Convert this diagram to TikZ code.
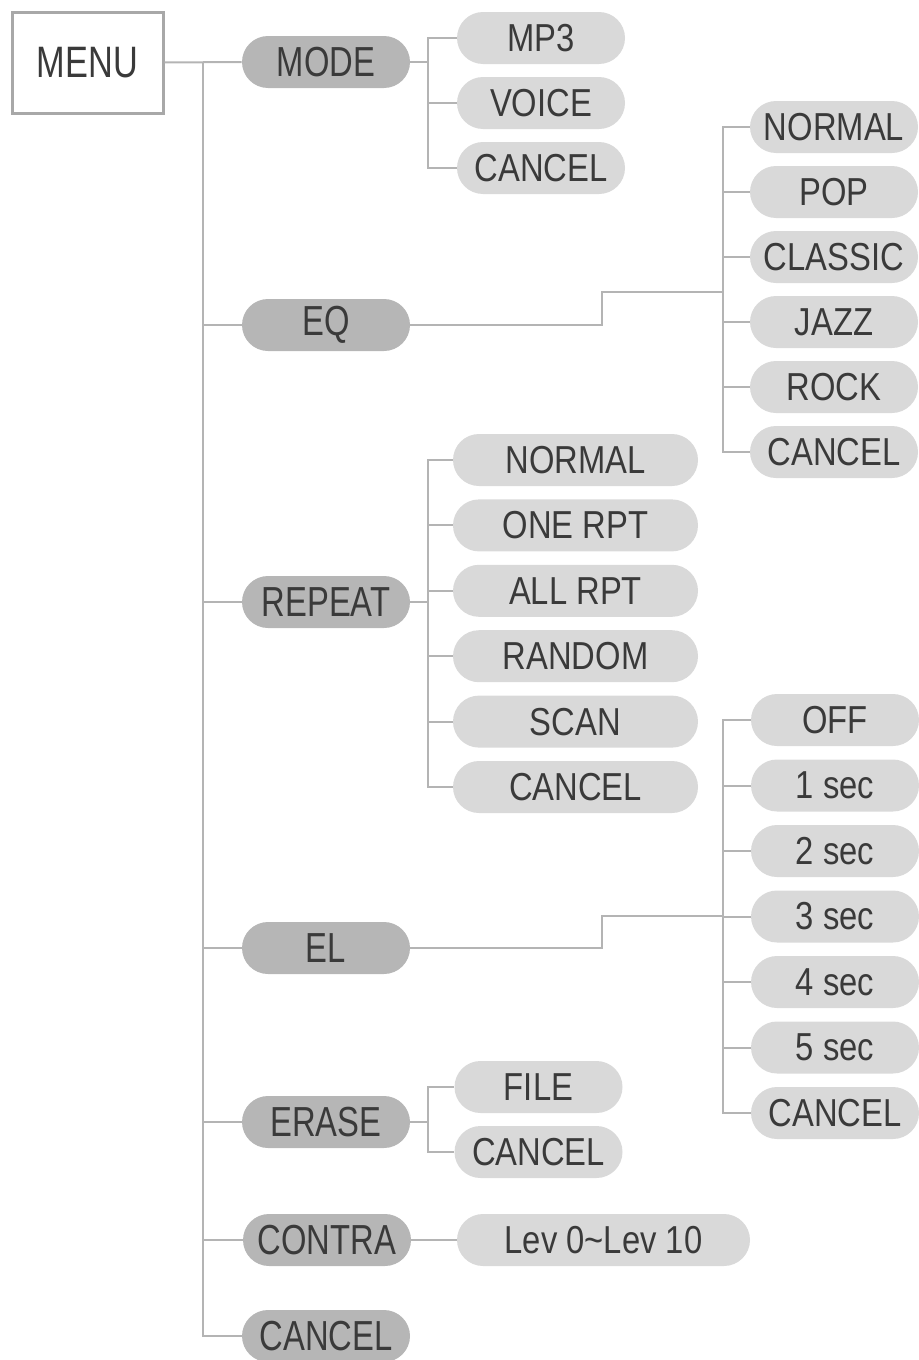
\documentclass[tikz,border=0pt]{standalone}
\usepackage{fontspec}
\setmainfont{Liberation Sans}[FakeStretch=0.84]
\newfontfamily\topfont{Liberation Sans}[FakeStretch=0.78]
\usetikzlibrary{shapes.misc}
\definecolor{linegray}{HTML}{B4B4B4}
\definecolor{boxgray}{HTML}{A8A8A8}
\definecolor{maingray}{HTML}{B6B6B6}
\definecolor{subgray}{HTML}{D9D9D9}
\definecolor{textgray}{HTML}{3A3A3A}
\tikzset{
  link/.style={draw=linegray, line width=1pt},
  menubox/.style={
    draw=boxgray,
    fill=white,
    line width=1.5pt,
    minimum width=75.5pt,
    minimum height=50.5pt,
    inner sep=0pt,
    text=textgray,
    font=\topfont\fontsize{22}{26}\selectfont
  },
  pill/.style={
    rounded rectangle,
    minimum height=26pt,
    inner sep=0pt,
    text=textgray
  },
  mainitem/.style={pill, fill=maingray, minimum width=84pt, font=\topfont\fontsize{21}{25}\selectfont},
  subitem/.style={pill, fill=subgray, minimum width=84pt, font=\fontsize{19.5}{23}\selectfont},
  wideitem/.style={subitem, minimum width=122.5pt}
}

\begin{document}
\begin{tikzpicture}[x=0.5pt, y=-0.5pt]
  \useasboundingbox (0,0) rectangle (918,1360);

  % Root and first level
  \node[menubox] (menu) at (87.5,62.5) {MENU};
  \node[mainitem] (mode) at (326,62) {MODE};
  \node[mainitem] (eq) at (326,325) {EQ};
  \node[mainitem] (repeat) at (326,602) {REPEAT};
  \node[mainitem] (el) at (326,948) {EL};
  \node[mainitem] (erase) at (326,1122) {ERASE};
  \node[mainitem] (contra) at (327,1240) {CONTRA};
  \node[mainitem] (cancel) at (326,1336) {CANCEL};

  \coordinate (trunk) at (203,62);
  \draw[link] (menu.east) -- (mode.west);
  \foreach \n in {eq,repeat,el,erase,contra,cancel} {
    \draw[link] (trunk) |- (\n.west);
  }

  % MODE
  \coordinate (modeJ) at (428,62);
  \foreach \txt [count=\i] in {MP3,VOICE,CANCEL} {
    \node[subitem] (mode\i) at (541,{38+65*(\i-1)}) {\txt};
    \draw[link] (mode.east) -- (modeJ) |- (mode\i.west);
  }

  % EQ
  \coordinate (eqJ) at (723,292);
  \draw[link] (eq.east) -- ++(192,0) |- (eqJ);
  \foreach \txt [count=\i] in {NORMAL,POP,CLASSIC,JAZZ,ROCK,CANCEL} {
    \node[subitem] (eq\i) at (834,{127+65*(\i-1)}) {\txt};
    \draw[link] (eqJ) |- (eq\i.west);
  }

  % REPEAT
  \coordinate (repJ) at (428,602);
  \foreach \txt [count=\i] in {NORMAL,ONE RPT,ALL RPT,RANDOM,SCAN,CANCEL} {
    \node[wideitem] (rep\i) at (575.5,{460+65.4*(\i-1)}) {\txt};
    \draw[link] (repeat.east) -- (repJ) |- (rep\i.west);
  }

  % EL
  \coordinate (elJ) at (723,916);
  \draw[link] (el.east) -- ++(192,0) |- (elJ);
  \foreach \txt [count=\i] in {OFF,1 sec,2 sec,3 sec,4 sec,5 sec,CANCEL} {
    \node[subitem] (el\i) at (835,{720+65.5*(\i-1)}) {\txt};
    \draw[link] (elJ) |- (el\i.west);
  }

  % ERASE
  \coordinate (eraseJ) at (428,1122);
  \foreach \txt [count=\i] in {FILE,CANCEL} {
    \node[subitem] (erase\i) at (538.5,{1087+65*(\i-1)}) {\txt};
    \draw[link] (erase.east) -- (eraseJ) |- (erase\i.west);
  }

  % CONTRA
  \node[subitem, minimum width=146.5pt] (lev) at (603.5,1240) {Lev 0\textasciitilde Lev 10};
  \draw[link] (contra.east) -- (lev.west);
\end{tikzpicture}
\end{document}
